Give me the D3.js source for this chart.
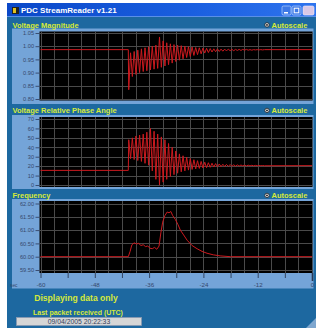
<!DOCTYPE html>
<html><head><meta charset="utf-8">
<script src="https://cdn.jsdelivr.net/npm/d3@7"></script>
<style>body{margin:0;background:#fff;} svg{display:block;font-family:"Liberation Sans",Arial,sans-serif;}</style>
</head><body><svg id="c" width="321" height="328"></svg>
<script>
// ---------- data ----------
const xTickMarks = [-60,-54,-48,-42,-36,-30,-24,-18,-12,-6,0];
const xTickLabels = [-60,-48,-36,-24,-12,0];
const voltTicks = [0.80,0.85,0.90,0.95,1.00,1.05];
const angleTicks = [0,10,20,30,40,50,60,70];
const freqTicks = [59.5,60.0,60.5,61.0,61.5,62.0];

const preTimes = [-60,-40.6];
const postTimes = [0];
const oscTimes = [-40.5,-40.1,-39.7,-39.3,-38.9,-38.5,-38.1,-37.7,-37.3,-36.9,
  -36.5,-36.1,-35.7,-35.3,-34.9,-34.5,-34.1,-33.7,-33.3,-32.9,
  -32.5,-32.1,-31.7,-31.3,-30.9,-30.5,-30.1,-29.7,-29.3,-28.9,
  -28.5,-28.1,-27.7,-27.3,-26.9,-26.5,-26.1,-25.7,-25.3,-24.9,
  -24.5,-24.1,-23.7,-23.3,-22.9,-22.5,-22.1,-21.7,-21.3,-20.9,
  -20.5,-20.1,-19.7,-19.3,-18.9,-18.5,-18.1,-17.7,-17.3,-16.9,
  -16.5,-16.1,-15.7,-15.3,-14.9,-14.5,-14.1,-13.7,-13.3,-12.9,
  -12.5,-12.1,-11.7,-11.3,-10.9,-10.5];

const voltPre = [0.987,0.987];
const voltPost = [0.987];
const voltOsc = [0.835,0.975, 0.885,0.980, 0.893,0.985, 0.900,0.990, 0.904,0.994,
  0.907,0.998, 0.910,1.000, 0.913,1.004, 0.916,1.035, 0.920,1.020,
  0.925,1.013, 0.930,1.009, 0.936,1.006, 0.942,1.004, 0.947,1.002,
  0.952,1.000, 0.957,0.998, 0.961,0.997, 0.965,0.995, 0.968,0.994,
  0.971,0.993, 0.974,0.992, 0.976,0.991, 0.978,0.990, 0.979,0.990,
  0.980,0.989, 0.981,0.989, 0.982,0.989, 0.983,0.988, 0.983,0.988,
  0.984,0.988, 0.984,0.988, 0.985,0.988, 0.985,0.987, 0.985,0.987,
  0.986,0.987, 0.986,0.987, 0.986,0.987];

const anglePre = [15.5,15.5];
const anglePost = [20.5];
const angleOsc = [48,28, 50,27, 52,26, 53,25, 54,23, 56,21, 60,15, 57,6, 54,0, 51,3,
  48,6, 44,9, 40,11, 36,12.5, 33,14, 31,15, 29.5,15.8, 28,16.5, 26.8,17.1, 25.8,17.6,
  25,18.0, 24.2,18.4, 23.6,18.8, 23.1,19.1, 22.7,19.3, 22.3,19.5, 22.0,19.7, 21.8,19.8,
  21.6,19.9, 21.4,20.0, 21.3,20.1, 21.2,20.2, 21.1,20.2, 21.0,20.3, 20.9,20.3, 20.8,20.4,
  20.7,20.4, 20.6,20.4];

const freqTimes = [-60,-40.6,-40.2,-39.8,-39.3,-38.8,-38.3,-37.8,-37.3,-36.8,-36.3,-35.8,-35.3,-34.8,-34.3,-33.8,
  -33.4,-33.0,-32.5,-32.0,-31.6,-31.2,-30.8,-30.2,-29.6,-29.1,-28.5,-27.6,-26.5,-25.4,-24.3,-23.2,-21.8,-20.3,-18.0,0];
const freqValues = [60.0,60.0,60.2,60.45,60.52,60.48,60.5,60.42,60.45,60.38,60.4,60.32,60.3,60.35,60.28,60.4,
  60.9,61.3,61.55,61.68,61.65,61.7,61.55,61.4,61.2,61.0,60.85,60.62,60.42,60.3,60.2,60.13,60.07,60.03,60.0,60.0];

const panelTitles = ["Voltage Magnitude","Voltage Relative Phase Angle","Frequency"];
const autoLabel = "Autoscale";
const appTitle = "PDC StreamReader v1.21";
const statusText = "Displaying data only";
const packetLabel = "Last packet received (UTC)";
const packetTime = "09/04/2005  20:22:33";

// ---------- drawing ----------
const svg = d3.select("#c");
const defs = svg.append("defs");
const tg = defs.append("linearGradient").attr("id","tbar").attr("x1",0).attr("x2",1).attr("y1",0).attr("y2",0);
tg.append("stop").attr("offset","0%").attr("stop-color","#0b48c8");
tg.append("stop").attr("offset","60%").attr("stop-color","#1a5fe0");
tg.append("stop").attr("offset","100%").attr("stop-color","#2f74ee");

const BODY = "#1d68a0", PANEL = "#74a4d8", TITLE = "#d6ea3a";

// window
svg.append("rect").attr("x",7).attr("y",3).attr("width",309).attr("height",325).attr("fill",BODY);
svg.append("rect").attr("x",7).attr("y",3).attr("width",309).attr("height",14).attr("fill","url(#tbar)");
svg.append("rect").attr("x",7).attr("y",16).attr("width",309).attr("height",1).attr("fill","#5a8fe8");
// icon
svg.append("rect").attr("x",12).attr("y",7).attr("width",7).attr("height",7).attr("fill","#222");
svg.append("rect").attr("x",13).attr("y",8).attr("width",3).attr("height",5).attr("fill","#e0c020");
svg.append("text").attr("x",21).attr("y",13.3).attr("fill","#fff").attr("font-weight","bold")
  .attr("font-size",8).text(appTitle);
// window buttons
[[282,"#3d78e6"],[292,"#3d78e6"]].forEach(([bx,c])=>{
  svg.append("rect").attr("x",bx).attr("y",6).attr("width",9).attr("height",9).attr("rx",1.5)
    .attr("fill",c).attr("stroke","#cfe0ff").attr("stroke-width",0.6);
});
svg.append("rect").attr("x",284).attr("y",12).attr("width",4).attr("height",1.5).attr("fill","#fff");
svg.append("rect").attr("x",294.2).attr("y",8.2).attr("width",4.6).attr("height",4.6).attr("fill","none").attr("stroke","#fff").attr("stroke-width",1);
svg.append("rect").attr("x",303).attr("y",6).attr("width",11).attr("height",9).attr("rx",1.5)
  .attr("fill","#d9c8e6").attr("stroke","#f4eefa").attr("stroke-width",0.6);

const x = d3.scaleLinear().domain([-60,0]).range([40.5,312]);
const gridTimes = d3.range(-60,1,3);

const panels = [
  {title:panelTitles[0], domain:[0.80,1.05], ticks:voltTicks, fmt:d3.format(".2f"), ry:[99,33],
   rect:[31.5,100.5], bg:[28.5,104], ty:27.5,
   series:[preTimes.concat(oscTimes,postTimes), voltPre.concat(voltOsc,voltPost)]},
  {title:panelTitles[1], domain:[0,70], ticks:angleTicks, fmt:d3.format("d"), ry:[185,119],
   rect:[117,187], bg:[115,189], ty:113,
   series:[preTimes.concat(oscTimes,postTimes), anglePre.concat(angleOsc,anglePost)]},
  {title:panelTitles[2], domain:[59.5,62], ticks:freqTicks, fmt:d3.format(".2f"), ry:[270,203.5],
   rect:[201,273], bg:[199,288.5], ty:198,
   series:[freqTimes, freqValues]}
];

panels.forEach((p,i)=>{
  const g = svg.append("g");
  g.append("rect").attr("x",12).attr("y",p.bg[0]).attr("width",301.5).attr("height",p.bg[1]-p.bg[0]).attr("fill",PANEL);
  g.append("text").attr("x",12.5).attr("y",p.ty).attr("fill",TITLE).attr("font-weight","bold").attr("font-size",7.5).text(p.title);
  g.append("circle").attr("cx",267).attr("cy",p.ty-2.6).attr("r",2.2).attr("fill","#eee").attr("stroke","#222").attr("stroke-width",0.8);
  g.append("circle").attr("cx",267).attr("cy",p.ty-2.6).attr("r",0.9).attr("fill","#111");
  g.append("text").attr("x",271.5).attr("y",p.ty).attr("fill",TITLE).attr("font-weight","bold").attr("font-size",7.5).text(autoLabel);

  const y = d3.scaleLinear().domain(p.domain).range(p.ry);
  g.append("rect").attr("x",39.5).attr("y",p.rect[0]).attr("width",273).attr("height",p.rect[1]-p.rect[0]).attr("fill","#000");
  const clipId = "clip"+i;
  defs.append("clipPath").attr("id",clipId).append("rect").attr("x",39.5).attr("y",p.rect[0]).attr("width",273).attr("height",p.rect[1]-p.rect[0]);
  const grid = g.append("g").attr("clip-path",`url(#${clipId})`);
  grid.selectAll("line.v").data(gridTimes).join("line").attr("class","v")
    .attr("x1",d=>Math.round(x(d))+0.5).attr("x2",d=>Math.round(x(d))+0.5)
    .attr("y1",p.rect[0]).attr("y2",p.rect[1]).attr("stroke","#4a4a4a").attr("stroke-width",1);
  grid.selectAll("line.h").data(p.ticks).join("line").attr("class","h")
    .attr("x1",39.5).attr("x2",312.5).attr("y1",d=>Math.round(y(d))+0.5).attr("y2",d=>Math.round(y(d))+0.5)
    .attr("stroke","#4a4a4a").attr("stroke-width",1);

  const ax = g.append("g").attr("transform","translate(39.5,0)")
    .call(d3.axisLeft(y).tickValues(p.ticks).tickFormat(p.fmt).tickSize(4).tickPadding(1.5));
  ax.select(".domain").remove();
  ax.selectAll("line").attr("stroke","#3a4e72");
  ax.selectAll("text").attr("fill","#34486c").attr("font-size",5.6).attr("font-family","Liberation Sans, Arial, sans-serif");

  const [ts, vs] = p.series;
  const line = d3.line().x((d,k)=>x(ts[k])).y(d=>y(d));
  grid.append("path").datum(vs).attr("d",line).attr("fill","none").attr("stroke","#cc1a1f").attr("stroke-width",1)
    .attr("stroke-linejoin","round");

  if(i===2){
    const xa = g.append("g").attr("transform",`translate(0,${p.rect[1]})`)
      .call(d3.axisBottom(x).tickValues(xTickMarks).tickSize(5).tickPadding(4.5)
        .tickFormat(d=>xTickLabels.includes(d)?String(d):""));
    xa.select(".domain").remove();
    xa.selectAll("line").attr("stroke","#2a3a55").attr("stroke-width",d=>d===0?1.6:0.9)
      .attr("y2",d=>d===0?8:5);
    xa.selectAll("text").attr("fill","#34486c").attr("font-size",6.2).attr("font-family","Liberation Sans, Arial, sans-serif");
    g.append("text").attr("x",10).attr("y",287).attr("fill","#34486c").attr("font-size",4.8).text("sec");
  }
});

// bottom status area
svg.append("text").attr("x",76).attr("y",301.2).attr("text-anchor","middle").attr("fill",TITLE)
  .attr("font-weight","bold").attr("font-size",8.6).text(statusText);
svg.append("text").attr("x",78).attr("y",315).attr("text-anchor","middle").attr("fill",TITLE)
  .attr("font-weight","bold").attr("font-size",7).text(packetLabel);
svg.append("rect").attr("x",16.5).attr("y",317.5).attr("width",125).attr("height",8).attr("fill","#d6d6d6")
  .attr("stroke","#8a9ab0").attr("stroke-width",0.8);
svg.append("text").attr("x",79).attr("y",324.2).attr("text-anchor","middle").attr("fill","#33405a")
  .attr("font-size",6.8).text(packetTime);
// resize grip
svg.append("path").attr("d","M316,318 L316,328 L306,328 Z").attr("fill","#7fa7cf");
</script></body></html>
